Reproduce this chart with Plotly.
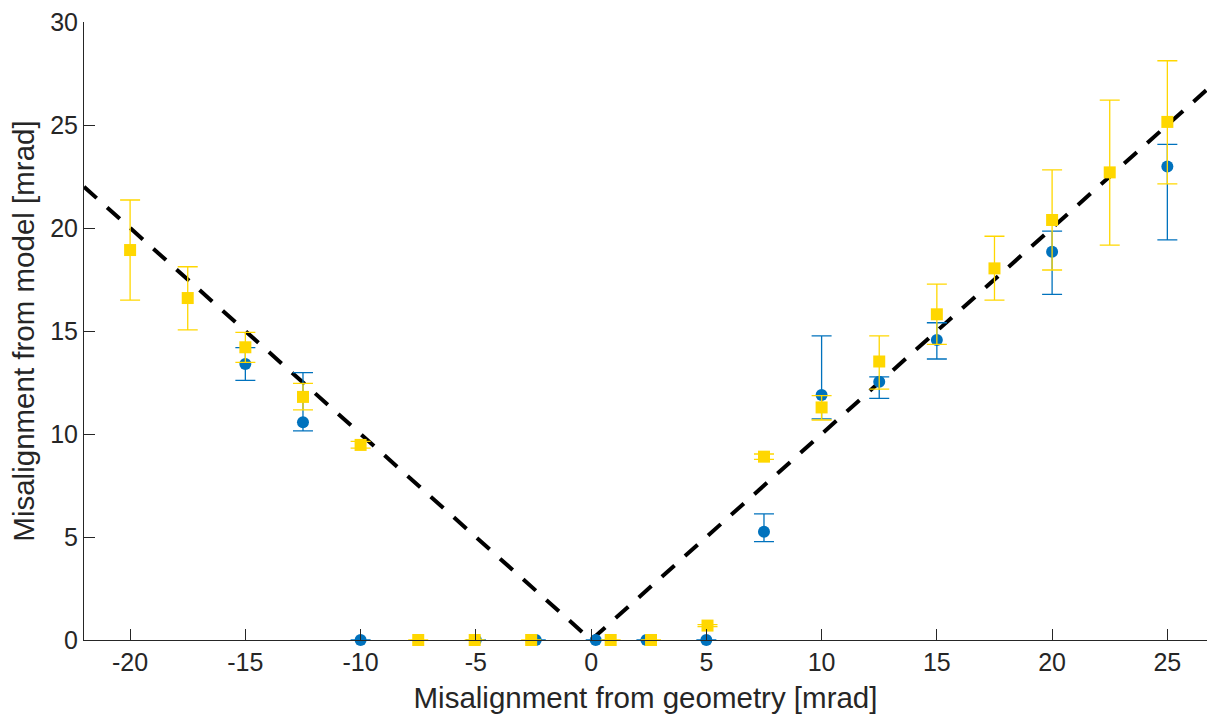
import numpy as np
import plotly.graph_objects as go

# Series A (blue circles): misalignment from model with asymmetric error bars
a_x = [-15, -12.5, -10, -5, -2.4, 0.2, 2.4, 5, 7.5, 10, 12.5, 15, 20, 25]
a_y = [13.4, 10.57, 0, 0, 0, 0, 0, 0, 5.26, 11.89, 12.54, 14.56, 18.85, 22.98]
a_err_plus = [0.79, 2.41, 0, 0, 0, 0, 0, 0, 0.86, 2.87, 0.23, 0.84, 1.0, 1.08]
a_err_minus = [0.8, 0.42, 0, 0, 0, 0, 0, 0, 0.48, 1.16, 0.81, 0.92, 2.07, 3.56]

# Series B (yellow squares)
b_x = [-20, -17.5, -15, -12.5, -10, -7.5, -5.05, -2.6, 0.85, 2.6, 5.05,
       7.5, 10, 12.5, 15, 17.5, 20, 22.5, 25]
b_y = [18.93, 16.6, 14.21, 11.8, 9.47, 0, 0, 0, 0, 0, 0.7,
       8.9, 11.29, 13.52, 15.81, 18.04, 20.39, 22.7, 25.15]
b_err_plus = [2.43, 1.52, 0.72, 0.66, 0.17, 0, 0, 0, 0, 0, 0.05,
              0.13, 0.57, 1.24, 1.47, 1.56, 2.43, 3.51, 2.97]
b_err_minus = [2.43, 1.55, 0.73, 0.63, 0.16, 0, 0, 0, 0, 0, 0.05,
               0.13, 0.61, 1.34, 1.46, 1.54, 2.43, 3.53, 3.01]

# Reference line y = |x|
ref_x = np.array([-22, 0, 27])
ref_y = np.abs(ref_x)

x_ticks = [-20, -15, -10, -5, 0, 5, 10, 15, 20, 25]
x_ticklabels = ["-20", "-15", "-10", "-5", "0", "5", "10", "15", "20", "25"]
y_ticks = [0, 5, 10, 15, 20, 25, 30]
y_ticklabels = ["0", "5", "10", "15", "20", "25", "30"]

BLUE = "#0072BD"
GOLD = "#FFD700"
AXIS = "#262626"
FONT = "Liberation Sans, Arial, Helvetica, sans-serif"

fig = go.Figure()

fig.add_trace(go.Scatter(
    x=ref_x, y=ref_y, mode="lines",
    line=dict(color="black", width=4, dash="17px,14px"),
    showlegend=False, hoverinfo="skip",
))

fig.add_trace(go.Scatter(
    x=a_x, y=a_y, mode="markers", cliponaxis=False,
    marker=dict(symbol="circle", size=12, color=BLUE),
    error_y=dict(type="data", symmetric=False, array=a_err_plus,
                 arrayminus=a_err_minus, color=BLUE, thickness=1.3, width=10),
    showlegend=False,
))

fig.add_trace(go.Scatter(
    x=b_x, y=b_y, mode="markers", cliponaxis=False,
    marker=dict(symbol="square", size=12, color=GOLD),
    error_y=dict(type="data", symmetric=False, array=b_err_plus,
                 arrayminus=b_err_minus, color=GOLD, thickness=1.3, width=10),
    showlegend=False,
))

axis_common = dict(
    showgrid=False, zeroline=False, showline=True, linecolor=AXIS,
    linewidth=1, ticks="inside", ticklen=11, tickcolor=AXIS, tickwidth=1,
    mirror=False, tickfont=dict(family=FONT, size=25, color=AXIS),
)

fig.update_layout(
    width=1207, height=719,
    margin=dict(l=84, r=0, t=22, b=79),
    paper_bgcolor="white", plot_bgcolor="white",
    font=dict(family=FONT, color=AXIS),
    xaxis=dict(
        range=[-22, 26.72], tickvals=x_ticks, ticktext=x_ticklabels,
        title=dict(text="Misalignment from geometry [mrad]",
                   font=dict(family=FONT, size=29.5, color=AXIS), standoff=12),
        **axis_common,
    ),
    yaxis=dict(
        range=[0, 30], tickvals=y_ticks, ticktext=y_ticklabels,
        title=dict(text="Misalignment from model [mrad]",
                   font=dict(family=FONT, size=29.5, color=AXIS), standoff=6),
        **axis_common,
    ),
)

fig.write_html("out.html")
